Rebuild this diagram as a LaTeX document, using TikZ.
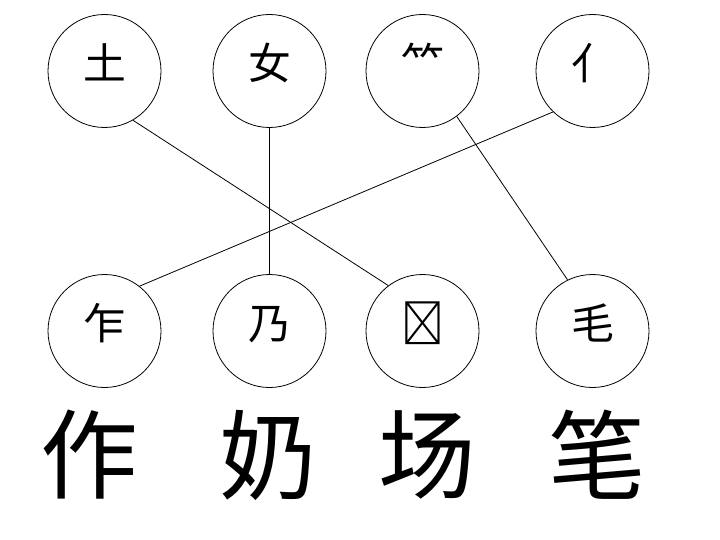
\documentclass[tikz,border=0pt]{standalone}
\usepackage{fontspec}
\newfontfamily\cjk{Noto Sans CJK SC}
\begin{document}
\begin{tikzpicture}[x=1bp,y=-1bp,%
% common options for the part circles:
part/.style = {circle, draw, line width=0.8bp, minimum size=113bp, inner sep=0,
            text height=22bp, text depth=5bp, font=\cjk\fontsize{43}{43}\selectfont},
% common options for the whole characters:
whole/.style = {inner sep=0, font=\cjk\fontsize{98}{98}\selectfont},
link/.style = {line width=0.8bp}]
\useasboundingbox (0,0) rectangle (720,540);
\node[part] (tu)   at (104.5,71) {土};
\node[part] (nv)   at (269.5,71) {女};
\node[part] (zhu)  at (422.5,71) {⺮};
\node[part] (ren)  at (592.5,71) {亻};
\node[part] (zha)  at (104.5,331) {乍};
\node[part] (nai)  at (269.5,331) {乃};
\node[part] (yang) at (422.5,331) {𠃓};
\node[part] (mao)  at (592.5,331) {毛};
\node[whole] (czuo)   at (89,455) {作};
\node[whole] (cnai)   at (268,455) {奶};
\node[whole] (cchang) at (427.5,455) {场};
\node[whole] (cbi)    at (597,455) {笔};
\draw[link] (tu.-60) to (yang.127.5);
\draw[link] (nv.south) to (nai.north);
\draw[link] (zhu.-53) to (mao.116);
\draw[link] (ren.226) to (zha.52.5);
\end{tikzpicture}
\end{document}
